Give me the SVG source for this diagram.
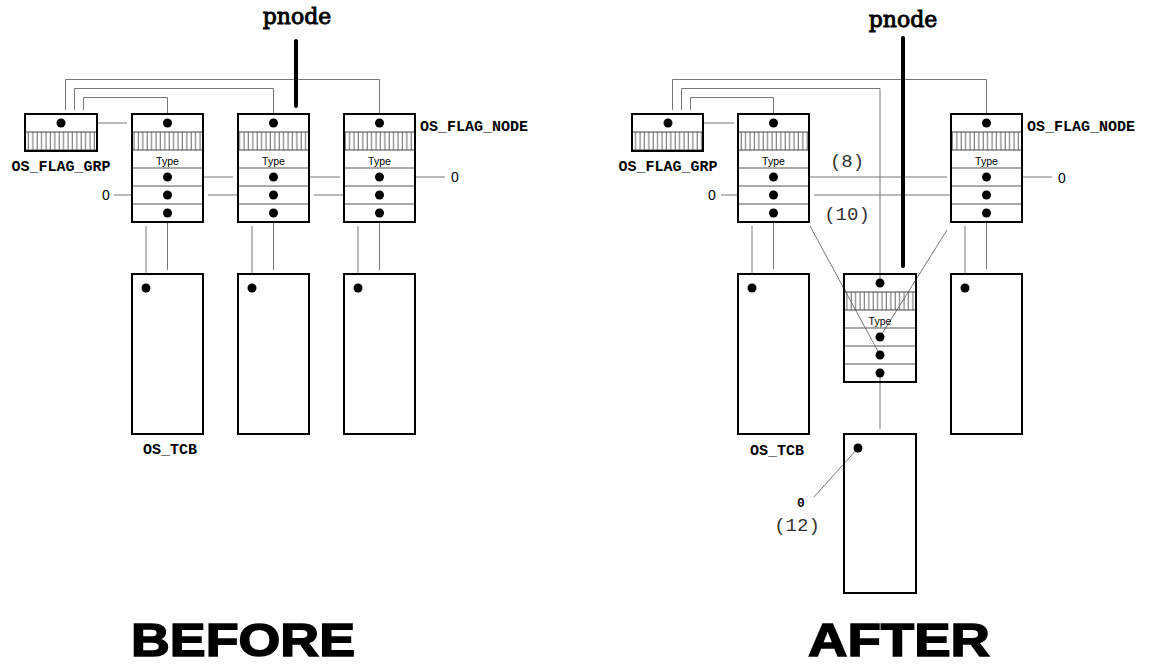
<svg xmlns="http://www.w3.org/2000/svg" width="1150" height="664" viewBox="0 0 1150 664">
<defs>
<pattern id="hatch" patternUnits="userSpaceOnUse" width="4.4" height="18" x="0" y="0">
<line x1="2" y1="0" x2="2" y2="18" stroke="#666" stroke-width="1"/>
</pattern>
<style>
.box{fill:#fff;stroke:#000;stroke-width:2}
.hatch{fill:url(#hatch);stroke:#444;stroke-width:1}
.row{stroke:#555;stroke-width:1}
.dot{fill:#000}
.con{fill:none;stroke:#777;stroke-width:1}
.ptr{fill:none;stroke:#000;stroke-width:4;stroke-linecap:round}
.mono{font-family:"Liberation Mono","DejaVu Sans Mono",monospace;font-weight:bold;fill:#000}
.pn{font-family:"DejaVu Serif","Liberation Serif",serif;font-size:22px;fill:#000;stroke:#000;stroke-width:0.9;text-anchor:middle}
.type{font-family:"Liberation Sans",Arial,sans-serif;font-size:10.5px;fill:#000;text-anchor:middle}
.zero{font-family:"Liberation Sans",Arial,sans-serif;font-size:14px;fill:#000;text-anchor:middle}
.num{font-family:"Liberation Mono","DejaVu Sans Mono",monospace;font-size:19px;fill:#333;text-anchor:middle}
.big{font-family:"Liberation Sans",Arial,sans-serif;font-weight:900;font-size:46px;fill:#000;text-anchor:middle;stroke:#000;stroke-width:1.5}
</style>
</defs>
<rect width="1150" height="664" fill="#fff"/>

<g id="connectors">
<path class="con" d="M65.5 110 V79.5 H379.5 V123"/>
<path class="con" d="M74.5 110 V88.5 H273.5 V123"/>
<path class="con" d="M83.5 110 V97.5 H167.5 V123"/>
<path class="con" d="M61 123 H127"/>
<path class="con" d="M167.5 177 H233 M273.5 177 H340 M379.5 177 H445"/>
<path class="con" d="M114 195 H167.5 M208 195 H273.5 M314 195 H379.5"/>
<path class="con" d="M167.5 213 V270 M146 226 V288 M273.5 213 V270 M252 226 V288 M379.5 213 V270 M358 226 V288"/>
<path class="ptr" d="M296 41 V106"/>
<path class="con" d="M672.5 110 V79.5 H986.5 V123"/>
<path class="con" d="M681.5 110 V88.5 H880 V283"/>
<path class="con" d="M690.5 110 V97.5 H773.5 V123"/>
<path class="con" d="M668 123 H734"/>
<path class="con" d="M773.5 177 H947 M986.5 177 H1052"/>
<path class="con" d="M721 195 H773.5 M814 195 H986.5"/>
<path class="con" d="M810 226 L880 355 M947 230 L880 337"/>
<path class="con" d="M773.5 213 V269 M752 226 V288 M986.5 213 V269 M965 226 V288"/>
<path class="con" d="M880 373 V429 M858 448 L814 497"/>
<path class="ptr" d="M903 38 V266"/>
</g>

<g id="before_grp">
<rect class="box" x="25" y="114" width="72" height="37"/>
<rect class="hatch" x="25" y="132" width="72" height="18"/>
<rect x="25" y="114" width="72" height="37" fill="none" stroke="#000" stroke-width="2"/>
<circle class="dot" cx="61" cy="123" r="4.5"/>
<text class="mono" x="61" y="171" font-size="15" text-anchor="middle">OS_FLAG_GRP</text>
</g>

<g id="before_node1">
<rect class="box" x="132" y="114" width="71" height="108"/>
<rect class="hatch" x="132" y="132" width="71" height="18"/>
<path class="row" d="M132 168 H203 M132 186 H203 M132 204 H203"/>
<rect x="132" y="114" width="71" height="108" fill="none" stroke="#000" stroke-width="2"/>
<text class="type" x="167.5" y="164.5">Type</text>
<circle class="dot" cx="167.5" cy="123" r="4.5"/><circle class="dot" cx="167.5" cy="177" r="4.5"/><circle class="dot" cx="167.5" cy="195" r="4.5"/><circle class="dot" cx="167.5" cy="213" r="4.5"/>
</g>
<g id="before_node2">
<rect class="box" x="238" y="114" width="71" height="108"/>
<rect class="hatch" x="238" y="132" width="71" height="18"/>
<path class="row" d="M238 168 H309 M238 186 H309 M238 204 H309"/>
<rect x="238" y="114" width="71" height="108" fill="none" stroke="#000" stroke-width="2"/>
<text class="type" x="273.5" y="164.5">Type</text>
<circle class="dot" cx="273.5" cy="123" r="4.5"/><circle class="dot" cx="273.5" cy="177" r="4.5"/><circle class="dot" cx="273.5" cy="195" r="4.5"/><circle class="dot" cx="273.5" cy="213" r="4.5"/>
</g>
<g id="before_node3">
<rect class="box" x="344" y="114" width="71" height="108"/>
<rect class="hatch" x="344" y="132" width="71" height="18"/>
<path class="row" d="M344 168 H415 M344 186 H415 M344 204 H415"/>
<rect x="344" y="114" width="71" height="108" fill="none" stroke="#000" stroke-width="2"/>
<text class="type" x="379.5" y="164.5">Type</text>
<circle class="dot" cx="379.5" cy="123" r="4.5"/><circle class="dot" cx="379.5" cy="177" r="4.5"/><circle class="dot" cx="379.5" cy="195" r="4.5"/><circle class="dot" cx="379.5" cy="213" r="4.5"/>
<text class="mono" x="420" y="131" font-size="15">OS_FLAG_NODE</text>
</g>
<g id="before_tcb1">
<rect class="box" x="132" y="274" width="71" height="160"/>
<circle class="dot" cx="146" cy="288" r="4.5"/>
<text class="mono" x="170" y="454" font-size="15" text-anchor="middle">OS_TCB</text>
</g>
<g id="before_tcb2">
<rect class="box" x="238" y="274" width="71" height="160"/>
<circle class="dot" cx="252" cy="288" r="4.5"/>
</g>
<g id="before_tcb3">
<rect class="box" x="344" y="274" width="71" height="160"/>
<circle class="dot" cx="358" cy="288" r="4.5"/>
</g>
<g id="before_labels">
<text class="pn" x="297" y="24">pnode</text>
<text class="zero" x="106" y="200">0</text>
<text class="zero" x="455" y="182">0</text>
<text class="big" x="243" y="656" textLength="224" lengthAdjust="spacingAndGlyphs">BEFORE</text>
</g>

<g id="after_grp">
<rect class="box" x="632" y="114" width="71" height="37"/>
<rect class="hatch" x="632" y="132" width="71" height="18"/>
<rect x="632" y="114" width="71" height="37" fill="none" stroke="#000" stroke-width="2"/>
<circle class="dot" cx="668" cy="123" r="4.5"/>
<text class="mono" x="668" y="171" font-size="15" text-anchor="middle">OS_FLAG_GRP</text>
</g>
<g id="after_nodeA">
<rect class="box" x="738" y="114" width="71" height="108"/>
<rect class="hatch" x="738" y="132" width="71" height="18"/>
<path class="row" d="M738 168 H809 M738 186 H809 M738 204 H809"/>
<rect x="738" y="114" width="71" height="108" fill="none" stroke="#000" stroke-width="2"/>
<text class="type" x="773.5" y="164.5">Type</text>
<circle class="dot" cx="773.5" cy="123" r="4.5"/><circle class="dot" cx="773.5" cy="177" r="4.5"/><circle class="dot" cx="773.5" cy="195" r="4.5"/><circle class="dot" cx="773.5" cy="213" r="4.5"/>
</g>
<g id="after_nodeC">
<rect class="box" x="951" y="114" width="71" height="108"/>
<rect class="hatch" x="951" y="132" width="71" height="18"/>
<path class="row" d="M951 168 H1022 M951 186 H1022 M951 204 H1022"/>
<rect x="951" y="114" width="71" height="108" fill="none" stroke="#000" stroke-width="2"/>
<text class="type" x="986.5" y="164.5">Type</text>
<circle class="dot" cx="986.5" cy="123" r="4.5"/><circle class="dot" cx="986.5" cy="177" r="4.5"/><circle class="dot" cx="986.5" cy="195" r="4.5"/><circle class="dot" cx="986.5" cy="213" r="4.5"/>
<text class="mono" x="1027" y="131" font-size="15">OS_FLAG_NODE</text>
</g>
<g id="after_nodeB">
<rect x="844" y="274" width="72" height="108" fill="none" stroke="#000" stroke-width="2"/>
<rect class="hatch" x="844" y="292" width="72" height="18"/>
<path class="row" d="M844 328 H916 M844 346 H916 M844 364 H916"/>
<rect x="844" y="274" width="72" height="108" fill="none" stroke="#000" stroke-width="2"/>
<text class="type" x="880" y="324.5">Type</text>
<circle class="dot" cx="880" cy="283" r="4.5"/><circle class="dot" cx="880" cy="337" r="4.5"/><circle class="dot" cx="880" cy="355" r="4.5"/><circle class="dot" cx="880" cy="373" r="4.5"/>
</g>
<g id="after_tcbA">
<rect class="box" x="738" y="274" width="71" height="160"/>
<circle class="dot" cx="752" cy="288" r="4.5"/>
<text class="mono" x="777" y="455" font-size="15" text-anchor="middle">OS_TCB</text>
</g>
<g id="after_tcbC">
<rect class="box" x="951" y="274" width="71" height="160"/>
<circle class="dot" cx="965" cy="288" r="4.5"/>
</g>
<g id="after_tcbB">
<rect x="844" y="434" width="72" height="159" fill="none" stroke="#000" stroke-width="2"/>
<circle class="dot" cx="858" cy="448" r="4.5"/>
</g>
<g id="after_labels">
<text class="pn" x="903" y="27">pnode</text>
<text class="zero" x="712" y="200">0</text>
<text class="zero" x="1062" y="183">0</text>
<text class="num" x="847" y="167">(8)</text>
<text class="num" x="847" y="220">(10)</text>
<text class="mono" x="801" y="507" font-size="13" text-anchor="middle">0</text>
<text class="num" x="797" y="531">(12)</text>
<text class="big" x="899" y="656" textLength="182" lengthAdjust="spacingAndGlyphs">AFTER</text>
</g>
</svg>
